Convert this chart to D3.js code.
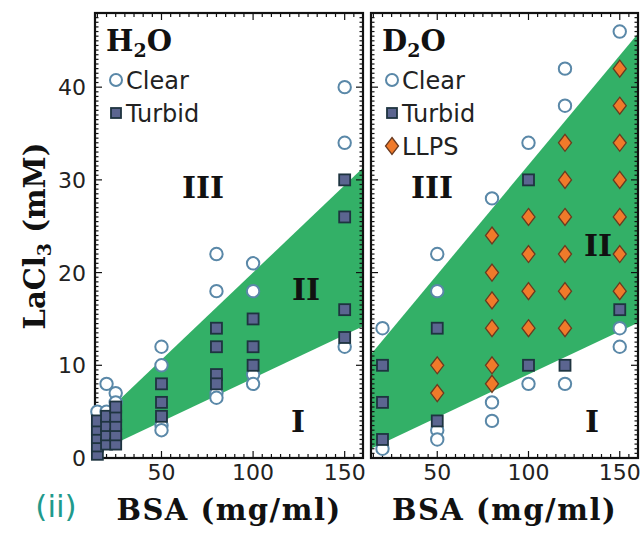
<!DOCTYPE html>
<html><head><meta charset="utf-8">
<script src="https://cdn.jsdelivr.net/npm/d3@7"></script>
<style>body{margin:0;background:#fff}svg{display:block}</style>
</head><body>
<svg id="c" width="643" height="534"></svg>
<script>
// ---- data ----
const xTicks = [50, 100, 150];
const yTicks = [0, 10, 20, 30, 40];
// H2O panel
const h2oClear = [[15,5],[20,8],[20,5],[25,7],[25,6],[50,12],[50,10],[50,3.5],[50,3],[80,22],[80,18],[80,7],[80,6.5],[100,21],[100,18],[100,9],[100,8],[150,40],[150,34],[150,12]];
const h2oTurbid = [[15,0.4],[15,1.3],[15,2.2],[15,3.1],[15,4],[20,1.5],[20,2.5],[20,3.5],[20,4.5],[25,1.5],[25,2.5],[25,3.5],[25,4.5],[25,5.5],[50,8],[50,6],[50,4.5],[80,14],[80,12],[80,9],[80,8],[100,15],[100,12],[100,10],[150,30],[150,26],[150,16],[150,13]];
const h2oBand = [[25,5.9],[160,31.3],[160,14.2],[25,1.6]];
// D2O panel
const d2oClear = [[20,14],[20,1],[50,22],[50,18],[50,3],[50,2],[80,28],[80,6],[80,4],[100,34],[100,8],[120,42],[120,38],[120,8],[150,46],[150,14],[150,12]];
const d2oTurbid = [[20,10],[20,6],[20,2],[50,14],[50,4],[100,30],[100,10],[120,10],[150,16]];
const d2oLLPS = [[50,10],[50,7],[80,24],[80,20],[80,17],[80,14],[80,10],[80,8],[100,26],[100,22],[100,18],[100,14],[120,34],[120,30],[120,26],[120,22],[120,18],[120,14],[150,42],[150,38],[150,34],[150,30],[150,26],[150,22],[150,18]];
const d2oBand = [[13.7,11.2],[160,45.8],[160,14.6],[13.7,1.0]];

// ---- style ----
const GREEN = "#33b067", CIRC = "#5a88a8", SQF = "#5b6590", SQS = "#1e3440", DIAF = "#f07a2a", DIAS = "#6a3a20";
const svg = d3.select("#c");
const yScale = d3.scaleLinear().domain([0, 48]).range([458, 13]);

function panel(x0, x1, title, clear, turbid, llps, band, labels, legendItems, leftAxis) {
  const x = d3.scaleLinear().domain([13.7, 160]).range([x0, x1]);
  const g = svg.append("g");
  const id = "clip" + x0;
  g.append("clipPath").attr("id", id).append("rect")
    .attr("x", x0).attr("y", 13).attr("width", x1 - x0).attr("height", 445);
  g.append("path").attr("clip-path", `url(#${id})`)
    .attr("d", d3.line().x(d => x(d[0])).y(d => yScale(d[1]))(band) + "Z")
    .attr("fill", GREEN);
  // frame
  g.append("rect").attr("x", x0).attr("y", 13).attr("width", x1 - x0).attr("height", 445)
    .attr("fill", "none").attr("stroke", "#111").attr("stroke-width", 2.2);
  // minor ticks
  const tk = g.append("g").attr("stroke", "#111").attr("stroke-width", 1.2);
  for (let v = 15; v <= 160; v += 5) {
    const L = v % 50 === 0 ? 7 : 4;
    tk.append("line").attr("x1", x(v)).attr("x2", x(v)).attr("y1", 458).attr("y2", 458 - L);
    tk.append("line").attr("x1", x(v)).attr("x2", x(v)).attr("y1", 13).attr("y2", 13 + L);
  }
  for (let v = 0.5; v < 48; v += 0.5) {
    const L = v % 10 === 0 ? 7 : 3.5;
    tk.append("line").attr("y1", yScale(v)).attr("y2", yScale(v)).attr("x1", x0).attr("x2", x0 + L);
    tk.append("line").attr("y1", yScale(v)).attr("y2", yScale(v)).attr("x1", x1).attr("x2", x1 - L);
  }
  // x tick labels
  g.selectAll(".xt").data(xTicks).enter().append("text")
    .attr("x", d => x(d)).attr("y", 480).attr("text-anchor", "middle")
    .attr("font-family", "DejaVu Sans").attr("font-size", 22).attr("fill", "#222").text(d => d);
  if (leftAxis) {
    g.selectAll(".yt").data(yTicks).enter().append("text")
      .attr("x", 86).attr("y", d => yScale(d) + 8).attr("text-anchor", "end")
      .attr("font-family", "DejaVu Sans").attr("font-size", 22).attr("fill", "#222").text(d => d);
  }
  // points
  const pts = g.append("g");
  pts.selectAll("circle").data(clear).enter().append("circle")
    .attr("cx", d => x(d[0])).attr("cy", d => yScale(d[1])).attr("r", 6.2)
    .attr("fill", "#fff").attr("stroke", CIRC).attr("stroke-width", 2);
  pts.selectAll("rect").data(turbid).enter().append("rect")
    .attr("x", d => x(d[0]) - 5.5).attr("y", d => yScale(d[1]) - 5.5).attr("width", 11).attr("height", 11)
    .attr("fill", SQF).attr("stroke", SQS).attr("stroke-width", 1.8);
  pts.selectAll("path.dm").data(llps).enter().append("path").attr("class", "dm")
    .attr("d", d => { const cx = x(d[0]), cy = yScale(d[1]); return `M${cx},${cy-8.5}L${cx+6.5},${cy}L${cx},${cy+8.5}L${cx-6.5},${cy}Z`; })
    .attr("fill", DIAF).attr("stroke", DIAS).attr("stroke-width", 1.3);
  // title
  const t = g.append("text").attr("x", x0 + 11).attr("y", 51)
    .attr("font-family", "DejaVu Serif").attr("font-weight", "bold").attr("font-size", 29).attr("fill", "#111");
  t.append("tspan").text(title[0]);
  t.append("tspan").attr("font-size", 19).attr("dy", 6).text("2");
  t.append("tspan").attr("dy", -6).text("O");
  // region labels
  labels.forEach(l => g.append("text").attr("x", l[1]).attr("y", l[2]).attr("text-anchor", "middle")
    .attr("font-family", "DejaVu Serif").attr("font-weight", "bold").attr("font-size", 30).attr("fill", "#111").text(l[0]));
  // legend
  legendItems.forEach((it, i) => {
    const cy = 80 + i * 33, cx = x0 + 21;
    if (it === "Clear") g.append("circle").attr("cx", cx).attr("cy", cy).attr("r", 6).attr("fill", "#fff").attr("stroke", CIRC).attr("stroke-width", 2);
    if (it === "Turbid") g.append("rect").attr("x", cx - 5).attr("y", cy - 5).attr("width", 10).attr("height", 10).attr("fill", SQF).attr("stroke", SQS).attr("stroke-width", 1.8);
    if (it === "LLPS") g.append("path").attr("d", `M${cx},${cy-8.5}L${cx+6.5},${cy}L${cx},${cy+8.5}L${cx-6.5},${cy}Z`).attr("fill", DIAF).attr("stroke", DIAS).attr("stroke-width", 1.3);
    g.append("text").attr("x", cx + 10).attr("y", cy + 8.5).attr("font-family", "DejaVu Sans").attr("font-size", 24).attr("fill", "#222").text(it);
  });
  // x axis title
  g.append("text").attr("x", (x0 + x1) / 2).attr("y", 520).attr("text-anchor", "middle")
    .attr("font-family", "DejaVu Serif").attr("font-weight", "bold").attr("font-size", 29)
    .attr("letter-spacing", 1.5).attr("fill", "#111").text("BSA (mg/ml)");
}

panel(95, 363, "H", h2oClear, h2oTurbid, [], h2oBand,
  [["III", 203, 198], ["II", 306, 300], ["I", 298, 432]], ["Clear", "Turbid"], true);
panel(371, 638, "D", d2oClear, d2oTurbid, d2oLLPS, d2oBand,
  [["III", 432, 198], ["II", 598, 256], ["I", 592, 432]], ["Clear", "Turbid", "LLPS"], false);

// y axis title
const yt = svg.append("text").attr("transform", "translate(45,236) rotate(-90)").attr("text-anchor", "middle")
  .attr("font-family", "DejaVu Serif").attr("font-weight", "bold").attr("font-size", 29).attr("fill", "#111");
yt.append("tspan").text("LaCl");
yt.append("tspan").attr("font-size", 19).attr("dy", 6).text("3");
yt.append("tspan").attr("dy", -6).text(" (mM)");
// panel tag
svg.append("text").attr("x", 56).attr("y", 517).attr("text-anchor", "middle")
  .attr("font-family", "DejaVu Sans").attr("font-size", 31).attr("fill", "#1f9a8c").text("(ii)");
</script>
</body></html>
